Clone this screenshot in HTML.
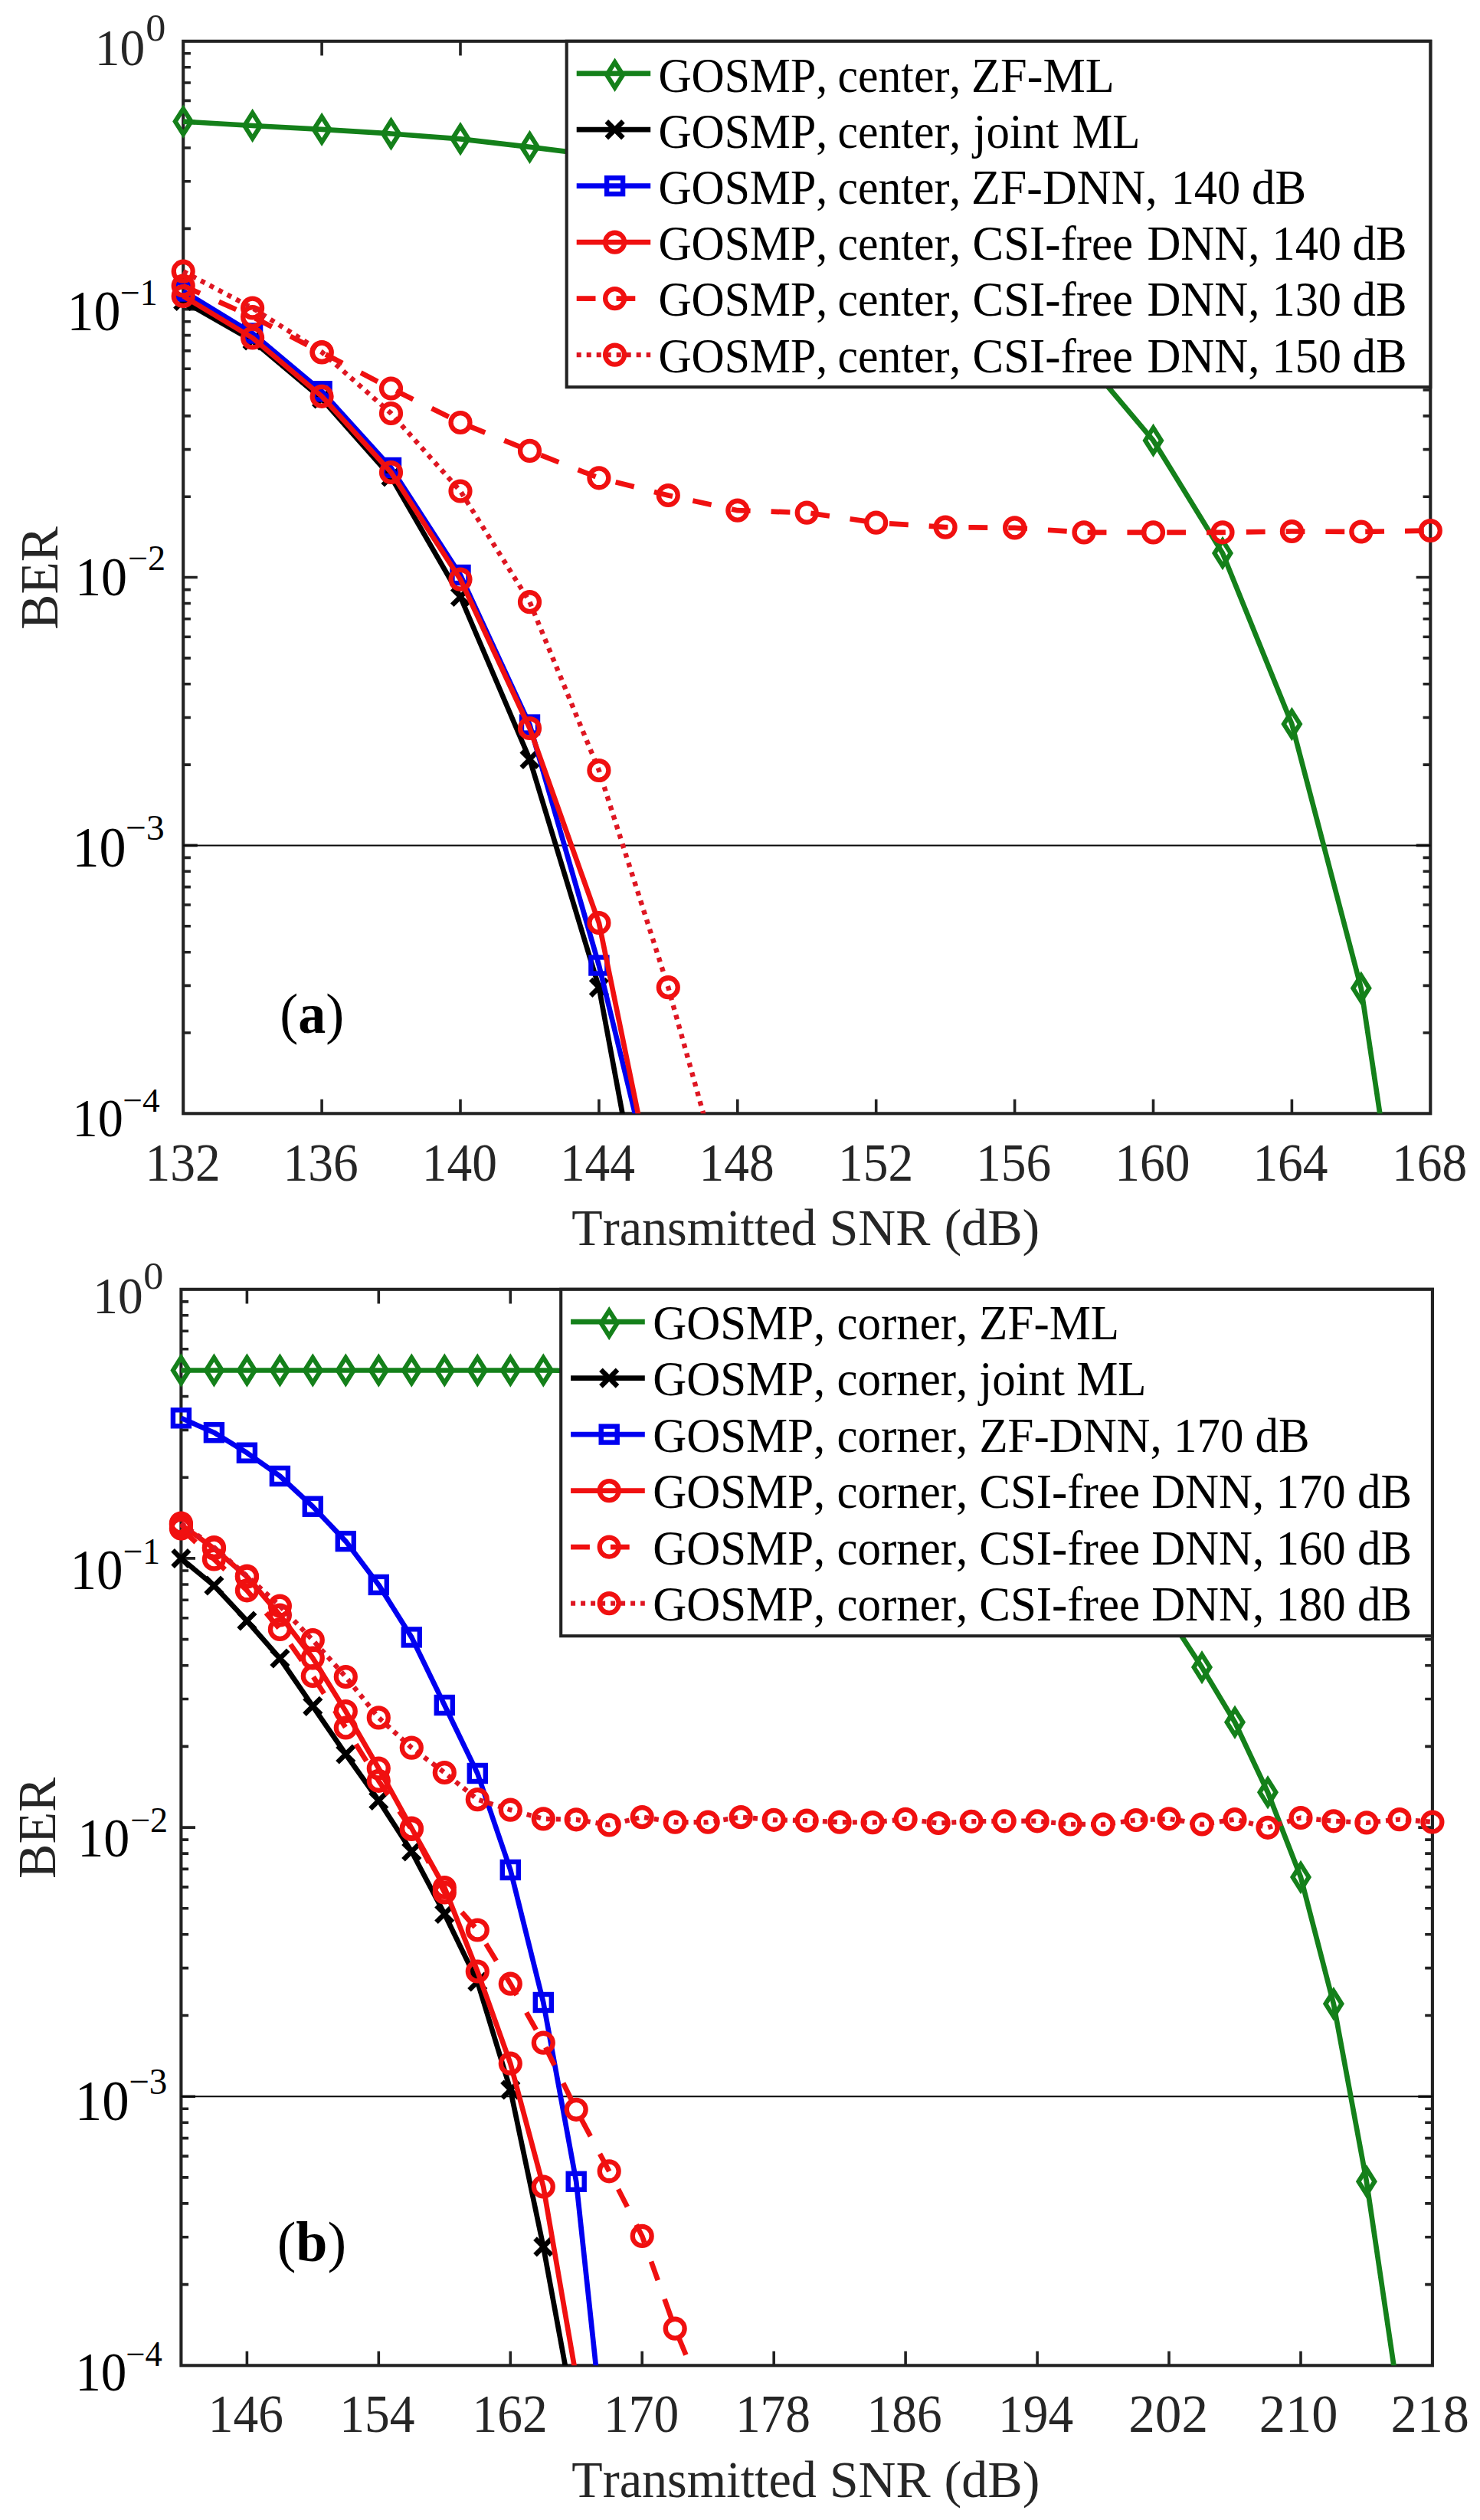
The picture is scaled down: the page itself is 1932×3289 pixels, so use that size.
<!DOCTYPE html>
<html lang="en"><head><meta charset="utf-8"><title>BER versus transmitted SNR</title>
<style>html,body{margin:0;padding:0;background:#fff}svg{display:block}text{font-family:"Liberation Serif", serif;font-kerning:none}</style></head><body>
<svg width="1932" height="3289" viewBox="0 0 1932 3289">
<rect width="1932" height="3289" fill="#fff"/>
<defs>
<clipPath id="ca"><rect x="209.2" y="53.8" width="1688.1" height="1399.5"/></clipPath>
<clipPath id="cb"><rect x="206.4" y="1682.8" width="1693.5" height="1404.5"/></clipPath>
</defs>
<g id="panel-a">
<rect x="239.2" y="53.8" width="1628.1" height="1399.5" fill="none" stroke="#222222" stroke-width="4.1"/>
<path d="M239.2 298.4L248.9 298.4M1867.3 298.4L1857.6 298.4M239.2 236.7L248.9 236.7M1867.3 236.7L1857.6 236.7M239.2 193L248.9 193M1867.3 193L1857.6 193M239.2 159.1L248.9 159.1M1867.3 159.1L1857.6 159.1M239.2 131.4L248.9 131.4M1867.3 131.4L1857.6 131.4M239.2 108L248.9 108M1867.3 108L1857.6 108M239.2 87.7L248.9 87.7M1867.3 87.7L1857.6 87.7M239.2 69.8L248.9 69.8M1867.3 69.8L1857.6 69.8M239.2 403.7L257.8 403.7M1867.3 403.7L1848.7 403.7M239.2 648.2L248.9 648.2M1867.3 648.2L1857.6 648.2M239.2 586.6L248.9 586.6M1867.3 586.6L1857.6 586.6M239.2 542.9L248.9 542.9M1867.3 542.9L1857.6 542.9M239.2 509L248.9 509M1867.3 509L1857.6 509M239.2 481.3L248.9 481.3M1867.3 481.3L1857.6 481.3M239.2 457.9L248.9 457.9M1867.3 457.9L1857.6 457.9M239.2 437.6L248.9 437.6M1867.3 437.6L1857.6 437.6M239.2 419.7L248.9 419.7M1867.3 419.7L1857.6 419.7M239.2 753.5L257.8 753.5M1867.3 753.5L1848.7 753.5M239.2 998.1L248.9 998.1M1867.3 998.1L1857.6 998.1M239.2 936.5L248.9 936.5M1867.3 936.5L1857.6 936.5M239.2 892.8L248.9 892.8M1867.3 892.8L1857.6 892.8M239.2 858.9L248.9 858.9M1867.3 858.9L1857.6 858.9M239.2 831.2L248.9 831.2M1867.3 831.2L1857.6 831.2M239.2 807.7L248.9 807.7M1867.3 807.7L1857.6 807.7M239.2 787.5L248.9 787.5M1867.3 787.5L1857.6 787.5M239.2 769.6L248.9 769.6M1867.3 769.6L1857.6 769.6M239.2 1103.4L257.8 1103.4M1867.3 1103.4L1848.7 1103.4M239.2 1348L248.9 1348M1867.3 1348L1857.6 1348M239.2 1286.4L248.9 1286.4M1867.3 1286.4L1857.6 1286.4M239.2 1242.7L248.9 1242.7M1867.3 1242.7L1857.6 1242.7M239.2 1208.7L248.9 1208.7M1867.3 1208.7L1857.6 1208.7M239.2 1181L248.9 1181M1867.3 1181L1857.6 1181M239.2 1157.6L248.9 1157.6M1867.3 1157.6L1857.6 1157.6M239.2 1137.3L248.9 1137.3M1867.3 1137.3L1857.6 1137.3M239.2 1119.4L248.9 1119.4M1867.3 1119.4L1857.6 1119.4M420.1 1453.3L420.1 1434.7M420.1 53.8L420.1 72.4M601 1453.3L601 1434.7M601 53.8L601 72.4M781.9 1453.3L781.9 1434.7M781.9 53.8L781.9 72.4M962.8 1453.3L962.8 1434.7M962.8 53.8L962.8 72.4M1143.7 1453.3L1143.7 1434.7M1143.7 53.8L1143.7 72.4M1324.6 1453.3L1324.6 1434.7M1324.6 53.8L1324.6 72.4M1505.5 1453.3L1505.5 1434.7M1505.5 53.8L1505.5 72.4M1686.4 1453.3L1686.4 1434.7M1686.4 53.8L1686.4 72.4" fill="none" stroke="#222222" stroke-width="3.6"/>
<path d="M239.2 1103.4L1867.3 1103.4" stroke="#080808" stroke-width="2.0" fill="none"/>
<path d="M239.2 158.6L329.6 164L420.1 168.9L510.5 174.5L601 181.3L691.5 191.9L781.9 203L872.3 220L962.8 243L1053.2 272L1143.7 308L1234.1 352L1324.6 408L1415 467.6L1505.5 574.9L1596 722L1686.4 945L1776.8 1289.8L1801.3 1453.3L1820 1574.7" fill="none" stroke="#14801a" stroke-width="6.7" stroke-linejoin="round" clip-path="url(#ca)"/>
<g><path d="M239.2 142L249.7 158.6L239.2 175.2L228.7 158.6Z" fill="none" stroke="#14801a" stroke-width="6.0" stroke-linejoin="miter"/><path d="M329.6 147.4L340.1 164L329.6 180.6L319.1 164Z" fill="none" stroke="#14801a" stroke-width="6.0" stroke-linejoin="miter"/><path d="M420.1 152.3L430.6 168.9L420.1 185.5L409.6 168.9Z" fill="none" stroke="#14801a" stroke-width="6.0" stroke-linejoin="miter"/><path d="M510.5 157.9L521 174.5L510.5 191.1L500 174.5Z" fill="none" stroke="#14801a" stroke-width="6.0" stroke-linejoin="miter"/><path d="M601 164.7L611.5 181.3L601 197.9L590.5 181.3Z" fill="none" stroke="#14801a" stroke-width="6.0" stroke-linejoin="miter"/><path d="M691.5 175.3L702 191.9L691.5 208.5L681 191.9Z" fill="none" stroke="#14801a" stroke-width="6.0" stroke-linejoin="miter"/><path d="M781.9 186.4L792.4 203L781.9 219.6L771.4 203Z" fill="none" stroke="#14801a" stroke-width="6.0" stroke-linejoin="miter"/><path d="M872.3 203.4L882.8 220L872.3 236.6L861.8 220Z" fill="none" stroke="#14801a" stroke-width="6.0" stroke-linejoin="miter"/><path d="M962.8 226.4L973.3 243L962.8 259.6L952.3 243Z" fill="none" stroke="#14801a" stroke-width="6.0" stroke-linejoin="miter"/><path d="M1053.2 255.4L1063.8 272L1053.2 288.6L1042.8 272Z" fill="none" stroke="#14801a" stroke-width="6.0" stroke-linejoin="miter"/><path d="M1143.7 291.4L1154.2 308L1143.7 324.6L1133.2 308Z" fill="none" stroke="#14801a" stroke-width="6.0" stroke-linejoin="miter"/><path d="M1234.1 335.4L1244.6 352L1234.1 368.6L1223.6 352Z" fill="none" stroke="#14801a" stroke-width="6.0" stroke-linejoin="miter"/><path d="M1324.6 391.4L1335.1 408L1324.6 424.6L1314.1 408Z" fill="none" stroke="#14801a" stroke-width="6.0" stroke-linejoin="miter"/><path d="M1415 451L1425.5 467.6L1415 484.2L1404.5 467.6Z" fill="none" stroke="#14801a" stroke-width="6.0" stroke-linejoin="miter"/><path d="M1505.5 558.3L1516 574.9L1505.5 591.5L1495 574.9Z" fill="none" stroke="#14801a" stroke-width="6.0" stroke-linejoin="miter"/><path d="M1596 705.4L1606.5 722L1596 738.6L1585.5 722Z" fill="none" stroke="#14801a" stroke-width="6.0" stroke-linejoin="miter"/><path d="M1686.4 928.4L1696.9 945L1686.4 961.6L1675.9 945Z" fill="none" stroke="#14801a" stroke-width="6.0" stroke-linejoin="miter"/><path d="M1776.8 1273.2L1787.3 1289.8L1776.8 1306.4L1766.3 1289.8Z" fill="none" stroke="#14801a" stroke-width="6.0" stroke-linejoin="miter"/></g>
<path d="M239.2 393L329.6 444.5L420.1 520.5L510.5 622.5L601 779L691.5 991L781.9 1288.8L812.5 1453.3L822 1550" fill="none" stroke="#000000" stroke-width="6.7" stroke-linejoin="round" clip-path="url(#ca)"/>
<g><path d="M228.4 382.2L250 403.8M228.4 403.8L250 382.2" fill="none" stroke="#000000" stroke-width="6.5" stroke-linecap="butt"/><path d="M318.8 433.7L340.4 455.3M318.8 455.3L340.4 433.7" fill="none" stroke="#000000" stroke-width="6.5" stroke-linecap="butt"/><path d="M409.3 509.7L430.9 531.3M409.3 531.3L430.9 509.7" fill="none" stroke="#000000" stroke-width="6.5" stroke-linecap="butt"/><path d="M499.7 611.7L521.3 633.3M499.7 633.3L521.3 611.7" fill="none" stroke="#000000" stroke-width="6.5" stroke-linecap="butt"/><path d="M590.2 768.2L611.8 789.8M590.2 789.8L611.8 768.2" fill="none" stroke="#000000" stroke-width="6.5" stroke-linecap="butt"/><path d="M680.7 980.2L702.2 1001.8M680.7 1001.8L702.2 980.2" fill="none" stroke="#000000" stroke-width="6.5" stroke-linecap="butt"/><path d="M771.1 1278L792.7 1299.6M771.1 1299.6L792.7 1278" fill="none" stroke="#000000" stroke-width="6.5" stroke-linecap="butt"/></g>
<path d="M239.2 380L329.6 435L420.1 510.8L510.5 610.5L601 750.5L691.5 946L781.9 1260L828.9 1453.3L836 1550" fill="none" stroke="#0000f0" stroke-width="6.7" stroke-linejoin="round" clip-path="url(#ca)"/>
<g><rect x="228.7" y="369.5" width="21" height="21" fill="none" stroke="#0000f0" stroke-width="6.4"/><rect x="319.1" y="424.5" width="21" height="21" fill="none" stroke="#0000f0" stroke-width="6.4"/><rect x="409.6" y="500.3" width="21" height="21" fill="none" stroke="#0000f0" stroke-width="6.4"/><rect x="500" y="600" width="21" height="21" fill="none" stroke="#0000f0" stroke-width="6.4"/><rect x="590.5" y="740" width="21" height="21" fill="none" stroke="#0000f0" stroke-width="6.4"/><rect x="681" y="935.5" width="21" height="21" fill="none" stroke="#0000f0" stroke-width="6.4"/><rect x="771.4" y="1249.5" width="21" height="21" fill="none" stroke="#0000f0" stroke-width="6.4"/></g>
<path d="M239.2 386.5L329.6 441L420.1 517.3L510.5 616.5L601 756.2L691.5 950.5L781.9 1204.5L832.9 1453.3L846 1550" fill="none" stroke="#f01010" stroke-width="6.7" stroke-linejoin="round" clip-path="url(#ca)"/>
<g><circle cx="239.2" cy="386.5" r="12.45" fill="none" stroke="#f01010" stroke-width="6.3"/><circle cx="329.6" cy="441" r="12.45" fill="none" stroke="#f01010" stroke-width="6.3"/><circle cx="420.1" cy="517.3" r="12.45" fill="none" stroke="#f01010" stroke-width="6.3"/><circle cx="510.5" cy="616.5" r="12.45" fill="none" stroke="#f01010" stroke-width="6.3"/><circle cx="601" cy="756.2" r="12.45" fill="none" stroke="#f01010" stroke-width="6.3"/><circle cx="691.5" cy="950.5" r="12.45" fill="none" stroke="#f01010" stroke-width="6.3"/><circle cx="781.9" cy="1204.5" r="12.45" fill="none" stroke="#f01010" stroke-width="6.3"/></g>
<path d="M239.2 373L329.6 413.5L420.1 460L510.5 507L601 551.5L691.5 588.4L781.9 623.8L872.3 646.5L962.8 666.2L1053.2 669.2L1143.7 682.2L1234.1 688.1L1324.6 688.9L1415 694.9L1505.5 694.9L1596 694.8L1686.4 693.5L1776.8 694L1867.3 692.5" fill="none" stroke="#f01010" stroke-width="6.7" stroke-linejoin="round" stroke-dasharray="24.8 26.999999999999996" stroke-dashoffset="0.8" clip-path="url(#ca)"/>
<g><circle cx="239.2" cy="373" r="12.45" fill="none" stroke="#f01010" stroke-width="6.3"/><circle cx="329.6" cy="413.5" r="12.45" fill="none" stroke="#f01010" stroke-width="6.3"/><circle cx="420.1" cy="460" r="12.45" fill="none" stroke="#f01010" stroke-width="6.3"/><circle cx="510.5" cy="507" r="12.45" fill="none" stroke="#f01010" stroke-width="6.3"/><circle cx="601" cy="551.5" r="12.45" fill="none" stroke="#f01010" stroke-width="6.3"/><circle cx="691.5" cy="588.4" r="12.45" fill="none" stroke="#f01010" stroke-width="6.3"/><circle cx="781.9" cy="623.8" r="12.45" fill="none" stroke="#f01010" stroke-width="6.3"/><circle cx="872.3" cy="646.5" r="12.45" fill="none" stroke="#f01010" stroke-width="6.3"/><circle cx="962.8" cy="666.2" r="12.45" fill="none" stroke="#f01010" stroke-width="6.3"/><circle cx="1053.2" cy="669.2" r="12.45" fill="none" stroke="#f01010" stroke-width="6.3"/><circle cx="1143.7" cy="682.2" r="12.45" fill="none" stroke="#f01010" stroke-width="6.3"/><circle cx="1234.1" cy="688.1" r="12.45" fill="none" stroke="#f01010" stroke-width="6.3"/><circle cx="1324.6" cy="688.9" r="12.45" fill="none" stroke="#f01010" stroke-width="6.3"/><circle cx="1415" cy="694.9" r="12.45" fill="none" stroke="#f01010" stroke-width="6.3"/><circle cx="1505.5" cy="694.9" r="12.45" fill="none" stroke="#f01010" stroke-width="6.3"/><circle cx="1596" cy="694.8" r="12.45" fill="none" stroke="#f01010" stroke-width="6.3"/><circle cx="1686.4" cy="693.5" r="12.45" fill="none" stroke="#f01010" stroke-width="6.3"/><circle cx="1776.8" cy="694" r="12.45" fill="none" stroke="#f01010" stroke-width="6.3"/><circle cx="1867.3" cy="692.5" r="12.45" fill="none" stroke="#f01010" stroke-width="6.3"/></g>
<path d="M239.2 354.2L329.6 402L420.1 459.5L510.5 539.5L601 641L691.5 785.7L781.9 1005.5L872.3 1288.7L918.1 1453.3L929 1550" fill="none" stroke="#de1622" stroke-width="6.4" stroke-linejoin="round" stroke-dasharray="6 7" clip-path="url(#ca)"/>
<g><circle cx="239.2" cy="354.2" r="12.45" fill="none" stroke="#f01010" stroke-width="6.3"/><circle cx="329.6" cy="402" r="12.45" fill="none" stroke="#f01010" stroke-width="6.3"/><circle cx="420.1" cy="459.5" r="12.45" fill="none" stroke="#f01010" stroke-width="6.3"/><circle cx="510.5" cy="539.5" r="12.45" fill="none" stroke="#f01010" stroke-width="6.3"/><circle cx="601" cy="641" r="12.45" fill="none" stroke="#f01010" stroke-width="6.3"/><circle cx="691.5" cy="785.7" r="12.45" fill="none" stroke="#f01010" stroke-width="6.3"/><circle cx="781.9" cy="1005.5" r="12.45" fill="none" stroke="#f01010" stroke-width="6.3"/><circle cx="872.3" cy="1288.7" r="12.45" fill="none" stroke="#f01010" stroke-width="6.3"/></g>
<rect x="739.7" y="53.8" width="1127.6" height="451.4" fill="#fff" stroke="#222222" stroke-width="4.1"/>
<path d="M752.7 95.8L849.2 95.8" stroke="#14801a" stroke-width="6.7" fill="none"/>
<path d="M802.6 81.2L813.1 97.8L802.6 114.4L792.1 97.8Z" fill="none" stroke="#14801a" stroke-width="6.0" stroke-linejoin="miter"/>
<text y="119.6" font-size="63.6" fill="#000"><tspan x="859.4" textLength="220.7" lengthAdjust="spacingAndGlyphs">GOSMP,</tspan> <tspan x="1093.6" textLength="160.6" lengthAdjust="spacingAndGlyphs">center,</tspan> <tspan x="1268" textLength="186.9" lengthAdjust="spacingAndGlyphs">ZF-ML</tspan></text>
<path d="M752.7 169.2L849.2 169.2" stroke="#000000" stroke-width="6.7" fill="none"/>
<path d="M791.8 158.4L813.4 180.1M791.8 180.1L813.4 158.4" fill="none" stroke="#000000" stroke-width="6.5" stroke-linecap="butt"/>
<text y="192.8" font-size="63.6" fill="#000"><tspan x="859.4" textLength="220.7" lengthAdjust="spacingAndGlyphs">GOSMP,</tspan> <tspan x="1093.6" textLength="160.6" lengthAdjust="spacingAndGlyphs">center,</tspan> <tspan x="1270.5" textLength="111.6" lengthAdjust="spacingAndGlyphs">joint</tspan> <tspan x="1399.7" textLength="88.7" lengthAdjust="spacingAndGlyphs">ML</tspan></text>
<path d="M752.7 242.7L849.2 242.7" stroke="#0000f0" stroke-width="6.7" fill="none"/>
<rect x="792.1" y="232.2" width="21" height="21" fill="none" stroke="#0000f0" stroke-width="6.4"/>
<text y="266" font-size="63.6" fill="#000"><tspan x="859.4" textLength="220.7" lengthAdjust="spacingAndGlyphs">GOSMP,</tspan> <tspan x="1093.6" textLength="160.6" lengthAdjust="spacingAndGlyphs">center,</tspan> <tspan x="1268" textLength="242.7" lengthAdjust="spacingAndGlyphs">ZF-DNN,</tspan> <tspan x="1528.7" textLength="90.5" lengthAdjust="spacingAndGlyphs">140</tspan> <tspan x="1634.1" textLength="71.2" lengthAdjust="spacingAndGlyphs">dB</tspan></text>
<path d="M752.7 316.2L849.2 316.2" stroke="#f01010" stroke-width="6.7" fill="none"/>
<circle cx="802.6" cy="316.2" r="12.45" fill="none" stroke="#f01010" stroke-width="6.3"/>
<text y="339.2" font-size="63.6" fill="#000"><tspan x="859.4" textLength="220.7" lengthAdjust="spacingAndGlyphs">GOSMP,</tspan> <tspan x="1093.6" textLength="160.6" lengthAdjust="spacingAndGlyphs">center,</tspan> <tspan x="1269.6" textLength="209.3" lengthAdjust="spacingAndGlyphs">CSI-free</tspan> <tspan x="1497.4" textLength="147" lengthAdjust="spacingAndGlyphs">DNN,</tspan> <tspan x="1660.5" textLength="90.5" lengthAdjust="spacingAndGlyphs">140</tspan> <tspan x="1765.5" textLength="71.1" lengthAdjust="spacingAndGlyphs">dB</tspan></text>
<path d="M752.7 389.6L849.2 389.6" stroke="#f01010" stroke-width="6.7" stroke-dasharray="24.8 27" fill="none"/>
<circle cx="802.6" cy="389.6" r="12.45" fill="none" stroke="#f01010" stroke-width="6.3"/>
<text y="412.4" font-size="63.6" fill="#000"><tspan x="859.4" textLength="220.7" lengthAdjust="spacingAndGlyphs">GOSMP,</tspan> <tspan x="1093.6" textLength="160.6" lengthAdjust="spacingAndGlyphs">center,</tspan> <tspan x="1269.6" textLength="209.3" lengthAdjust="spacingAndGlyphs">CSI-free</tspan> <tspan x="1497.4" textLength="147" lengthAdjust="spacingAndGlyphs">DNN,</tspan> <tspan x="1660.5" textLength="90.5" lengthAdjust="spacingAndGlyphs">130</tspan> <tspan x="1765.5" textLength="71.1" lengthAdjust="spacingAndGlyphs">dB</tspan></text>
<path d="M752.7 463.1L849.2 463.1" stroke="#de1622" stroke-width="6.4" stroke-dasharray="6 7" fill="none"/>
<circle cx="802.6" cy="463.1" r="12.45" fill="none" stroke="#f01010" stroke-width="6.3"/>
<text y="485.6" font-size="63.6" fill="#000"><tspan x="859.4" textLength="220.7" lengthAdjust="spacingAndGlyphs">GOSMP,</tspan> <tspan x="1093.6" textLength="160.6" lengthAdjust="spacingAndGlyphs">center,</tspan> <tspan x="1269.6" textLength="209.3" lengthAdjust="spacingAndGlyphs">CSI-free</tspan> <tspan x="1497.4" textLength="147" lengthAdjust="spacingAndGlyphs">DNN,</tspan> <tspan x="1660.5" textLength="90.5" lengthAdjust="spacingAndGlyphs">150</tspan> <tspan x="1765.5" textLength="71.1" lengthAdjust="spacingAndGlyphs">dB</tspan></text>
<text x="189.5" y="1540.7" font-size="69.3" textLength="98.2" lengthAdjust="spacingAndGlyphs" fill="#262626">132</text>
<text x="369.6" y="1540.7" font-size="69.3" textLength="98.2" lengthAdjust="spacingAndGlyphs" fill="#262626">136</text>
<text x="550.8" y="1540.7" font-size="69.3" textLength="98.2" lengthAdjust="spacingAndGlyphs" fill="#262626">140</text>
<text x="730.9" y="1541" font-size="69.3" textLength="98.2" lengthAdjust="spacingAndGlyphs" fill="#262626">144</text>
<text x="912.6" y="1540.7" font-size="69.3" textLength="98.2" lengthAdjust="spacingAndGlyphs" fill="#262626">148</text>
<text x="1094" y="1540.7" font-size="69.3" textLength="98.2" lengthAdjust="spacingAndGlyphs" fill="#262626">152</text>
<text x="1274.1" y="1540.7" font-size="69.3" textLength="98.2" lengthAdjust="spacingAndGlyphs" fill="#262626">156</text>
<text x="1455.3" y="1540.7" font-size="69.3" textLength="98.2" lengthAdjust="spacingAndGlyphs" fill="#262626">160</text>
<text x="1635.4" y="1540.7" font-size="69.3" textLength="98.2" lengthAdjust="spacingAndGlyphs" fill="#262626">164</text>
<text x="1817.1" y="1540.7" font-size="69.3" textLength="98.2" lengthAdjust="spacingAndGlyphs" fill="#262626">168</text>
<text y="1625.3" font-size="68.3" fill="#262626"><tspan x="746.3" textLength="319.3" lengthAdjust="spacingAndGlyphs">Transmitted</tspan> <tspan x="1082.7" textLength="131.7" lengthAdjust="spacingAndGlyphs">SNR</tspan> <tspan x="1232.4" textLength="124.9" lengthAdjust="spacingAndGlyphs">(dB)</tspan></text>
<text transform="translate(74.8 821.7) rotate(-90)" font-size="69.6" textLength="134.5" lengthAdjust="spacingAndGlyphs" fill="#262626">BER</text>
<text x="123.7" y="84.9" font-size="67.6" textLength="65.5" lengthAdjust="spacingAndGlyphs" fill="#262626">10</text>
<text x="190.2" y="52.6" font-size="50.7" textLength="26.1" lengthAdjust="spacingAndGlyphs" fill="#262626">0</text>
<text x="87.4" y="430.9" font-size="73.8" textLength="70" lengthAdjust="spacingAndGlyphs" fill="#000">10</text>
<text x="157" y="397.7" font-size="47.6" textLength="48.8" lengthAdjust="spacingAndGlyphs" fill="#000">−1</text>
<text x="98.1" y="777.3" font-size="72.4" textLength="68" lengthAdjust="spacingAndGlyphs" fill="#000">10</text>
<text x="167.1" y="743.9" font-size="46.5" textLength="49.1" lengthAdjust="spacingAndGlyphs" fill="#000">−2</text>
<text x="94.6" y="1130.5" font-size="74.4" textLength="70" lengthAdjust="spacingAndGlyphs" fill="#000">10</text>
<text x="164.2" y="1095.9" font-size="47.2" textLength="50.4" lengthAdjust="spacingAndGlyphs" fill="#000">−3</text>
<text x="94.6" y="1483" font-size="70.8" textLength="66.2" lengthAdjust="spacingAndGlyphs" fill="#000">10</text>
<text x="160.3" y="1451.4" font-size="44.8" textLength="48.3" lengthAdjust="spacingAndGlyphs" fill="#000">−4</text>
<text x="407.3" y="1348" font-size="74" text-anchor="middle" textLength="84" lengthAdjust="spacingAndGlyphs" fill="#000">(<tspan font-weight="bold">a</tspan>)</text>
</g>
<g id="panel-b">
<rect x="236.4" y="1682.8" width="1633.5" height="1404.5" fill="none" stroke="#222222" stroke-width="4.1"/>
<path d="M236.4 1928.2L246.1 1928.2M1869.9 1928.2L1860.2 1928.2M236.4 1866.4L246.1 1866.4M1869.9 1866.4L1860.2 1866.4M236.4 1822.5L246.1 1822.5M1869.9 1822.5L1860.2 1822.5M236.4 1788.5L246.1 1788.5M1869.9 1788.5L1860.2 1788.5M236.4 1760.7L246.1 1760.7M1869.9 1760.7L1860.2 1760.7M236.4 1737.2L246.1 1737.2M1869.9 1737.2L1860.2 1737.2M236.4 1716.8L246.1 1716.8M1869.9 1716.8L1860.2 1716.8M236.4 1698.9L246.1 1698.9M1869.9 1698.9L1860.2 1698.9M236.4 2033.9L255 2033.9M1869.9 2033.9L1851.3 2033.9M236.4 2279.4L246.1 2279.4M1869.9 2279.4L1860.2 2279.4M236.4 2217.5L246.1 2217.5M1869.9 2217.5L1860.2 2217.5M236.4 2173.7L246.1 2173.7M1869.9 2173.7L1860.2 2173.7M236.4 2139.6L246.1 2139.6M1869.9 2139.6L1860.2 2139.6M236.4 2111.8L246.1 2111.8M1869.9 2111.8L1860.2 2111.8M236.4 2088.3L246.1 2088.3M1869.9 2088.3L1860.2 2088.3M236.4 2068L246.1 2068M1869.9 2068L1860.2 2068M236.4 2050L246.1 2050M1869.9 2050L1860.2 2050M236.4 2385.1L255 2385.1M1869.9 2385.1L1851.3 2385.1M236.4 2630.5L246.1 2630.5M1869.9 2630.5L1860.2 2630.5M236.4 2568.6L246.1 2568.6M1869.9 2568.6L1860.2 2568.6M236.4 2524.8L246.1 2524.8M1869.9 2524.8L1860.2 2524.8M236.4 2490.7L246.1 2490.7M1869.9 2490.7L1860.2 2490.7M236.4 2462.9L246.1 2462.9M1869.9 2462.9L1860.2 2462.9M236.4 2439.4L246.1 2439.4M1869.9 2439.4L1860.2 2439.4M236.4 2419.1L246.1 2419.1M1869.9 2419.1L1860.2 2419.1M236.4 2401.1L246.1 2401.1M1869.9 2401.1L1860.2 2401.1M236.4 2736.2L255 2736.2M1869.9 2736.2L1851.3 2736.2M236.4 2981.6L246.1 2981.6M1869.9 2981.6L1860.2 2981.6M236.4 2919.8L246.1 2919.8M1869.9 2919.8L1860.2 2919.8M236.4 2875.9L246.1 2875.9M1869.9 2875.9L1860.2 2875.9M236.4 2841.9L246.1 2841.9M1869.9 2841.9L1860.2 2841.9M236.4 2814.1L246.1 2814.1M1869.9 2814.1L1860.2 2814.1M236.4 2790.6L246.1 2790.6M1869.9 2790.6L1860.2 2790.6M236.4 2770.2L246.1 2770.2M1869.9 2770.2L1860.2 2770.2M236.4 2752.2L246.1 2752.2M1869.9 2752.2L1860.2 2752.2M322.4 3087.3L322.4 3068.7M322.4 1682.8L322.4 1701.4M494.3 3087.3L494.3 3068.7M494.3 1682.8L494.3 1701.4M666.3 3087.3L666.3 3068.7M666.3 1682.8L666.3 1701.4M838.2 3087.3L838.2 3068.7M838.2 1682.8L838.2 1701.4M1010.2 3087.3L1010.2 3068.7M1010.2 1682.8L1010.2 1701.4M1182.1 3087.3L1182.1 3068.7M1182.1 1682.8L1182.1 1701.4M1354.1 3087.3L1354.1 3068.7M1354.1 1682.8L1354.1 1701.4M1526 3087.3L1526 3068.7M1526 1682.8L1526 1701.4M1698 3087.3L1698 3068.7M1698 1682.8L1698 1701.4" fill="none" stroke="#222222" stroke-width="3.6"/>
<path d="M236.4 2736.2L1869.9 2736.2" stroke="#080808" stroke-width="2.0" fill="none"/>
<path d="M236.4 1788.5L279.4 1788.5L322.4 1788.5L365.4 1788.5L408.3 1788.5L451.3 1788.5L494.3 1788.5L537.3 1788.5L580.3 1788.5L623.3 1788.5L666.3 1788.5L709.3 1788.5L752.2 1789L795.2 1790L838.2 1791L881.2 1793L924.2 1795L967.2 1798L1010.2 1802L1053.2 1808L1096.1 1816L1139.1 1826L1182.1 1839L1225.1 1856L1268.1 1878L1311.1 1905L1354.1 1938L1397 1977L1440 2022L1483 2060L1526 2110L1569 2176.1L1612 2247.8L1655 2339.2L1698 2450L1740.9 2615.3L1783.9 2847.2L1819.4 3087.3L1826 3200" fill="none" stroke="#14801a" stroke-width="6.7" stroke-linejoin="round" clip-path="url(#cb)"/>
<g><path d="M236.4 1771.9L246.9 1788.5L236.4 1805.1L225.9 1788.5Z" fill="none" stroke="#14801a" stroke-width="6.0" stroke-linejoin="miter"/><path d="M279.4 1771.9L289.9 1788.5L279.4 1805.1L268.9 1788.5Z" fill="none" stroke="#14801a" stroke-width="6.0" stroke-linejoin="miter"/><path d="M322.4 1771.9L332.9 1788.5L322.4 1805.1L311.9 1788.5Z" fill="none" stroke="#14801a" stroke-width="6.0" stroke-linejoin="miter"/><path d="M365.4 1771.9L375.9 1788.5L365.4 1805.1L354.9 1788.5Z" fill="none" stroke="#14801a" stroke-width="6.0" stroke-linejoin="miter"/><path d="M408.3 1771.9L418.8 1788.5L408.3 1805.1L397.8 1788.5Z" fill="none" stroke="#14801a" stroke-width="6.0" stroke-linejoin="miter"/><path d="M451.3 1771.9L461.8 1788.5L451.3 1805.1L440.8 1788.5Z" fill="none" stroke="#14801a" stroke-width="6.0" stroke-linejoin="miter"/><path d="M494.3 1771.9L504.8 1788.5L494.3 1805.1L483.8 1788.5Z" fill="none" stroke="#14801a" stroke-width="6.0" stroke-linejoin="miter"/><path d="M537.3 1771.9L547.8 1788.5L537.3 1805.1L526.8 1788.5Z" fill="none" stroke="#14801a" stroke-width="6.0" stroke-linejoin="miter"/><path d="M580.3 1771.9L590.8 1788.5L580.3 1805.1L569.8 1788.5Z" fill="none" stroke="#14801a" stroke-width="6.0" stroke-linejoin="miter"/><path d="M623.3 1771.9L633.8 1788.5L623.3 1805.1L612.8 1788.5Z" fill="none" stroke="#14801a" stroke-width="6.0" stroke-linejoin="miter"/><path d="M666.3 1771.9L676.8 1788.5L666.3 1805.1L655.8 1788.5Z" fill="none" stroke="#14801a" stroke-width="6.0" stroke-linejoin="miter"/><path d="M709.3 1771.9L719.8 1788.5L709.3 1805.1L698.8 1788.5Z" fill="none" stroke="#14801a" stroke-width="6.0" stroke-linejoin="miter"/><path d="M752.2 1772.4L762.7 1789L752.2 1805.6L741.7 1789Z" fill="none" stroke="#14801a" stroke-width="6.0" stroke-linejoin="miter"/><path d="M795.2 1773.4L805.7 1790L795.2 1806.6L784.7 1790Z" fill="none" stroke="#14801a" stroke-width="6.0" stroke-linejoin="miter"/><path d="M838.2 1774.4L848.7 1791L838.2 1807.6L827.7 1791Z" fill="none" stroke="#14801a" stroke-width="6.0" stroke-linejoin="miter"/><path d="M881.2 1776.4L891.7 1793L881.2 1809.6L870.7 1793Z" fill="none" stroke="#14801a" stroke-width="6.0" stroke-linejoin="miter"/><path d="M924.2 1778.4L934.7 1795L924.2 1811.6L913.7 1795Z" fill="none" stroke="#14801a" stroke-width="6.0" stroke-linejoin="miter"/><path d="M967.2 1781.4L977.7 1798L967.2 1814.6L956.7 1798Z" fill="none" stroke="#14801a" stroke-width="6.0" stroke-linejoin="miter"/><path d="M1010.2 1785.4L1020.7 1802L1010.2 1818.6L999.7 1802Z" fill="none" stroke="#14801a" stroke-width="6.0" stroke-linejoin="miter"/><path d="M1053.2 1791.4L1063.7 1808L1053.2 1824.6L1042.7 1808Z" fill="none" stroke="#14801a" stroke-width="6.0" stroke-linejoin="miter"/><path d="M1096.1 1799.4L1106.6 1816L1096.1 1832.6L1085.6 1816Z" fill="none" stroke="#14801a" stroke-width="6.0" stroke-linejoin="miter"/><path d="M1139.1 1809.4L1149.6 1826L1139.1 1842.6L1128.6 1826Z" fill="none" stroke="#14801a" stroke-width="6.0" stroke-linejoin="miter"/><path d="M1182.1 1822.4L1192.6 1839L1182.1 1855.6L1171.6 1839Z" fill="none" stroke="#14801a" stroke-width="6.0" stroke-linejoin="miter"/><path d="M1225.1 1839.4L1235.6 1856L1225.1 1872.6L1214.6 1856Z" fill="none" stroke="#14801a" stroke-width="6.0" stroke-linejoin="miter"/><path d="M1268.1 1861.4L1278.6 1878L1268.1 1894.6L1257.6 1878Z" fill="none" stroke="#14801a" stroke-width="6.0" stroke-linejoin="miter"/><path d="M1311.1 1888.4L1321.6 1905L1311.1 1921.6L1300.6 1905Z" fill="none" stroke="#14801a" stroke-width="6.0" stroke-linejoin="miter"/><path d="M1354.1 1921.4L1364.6 1938L1354.1 1954.6L1343.6 1938Z" fill="none" stroke="#14801a" stroke-width="6.0" stroke-linejoin="miter"/><path d="M1397 1960.4L1407.5 1977L1397 1993.6L1386.5 1977Z" fill="none" stroke="#14801a" stroke-width="6.0" stroke-linejoin="miter"/><path d="M1440 2005.4L1450.5 2022L1440 2038.6L1429.5 2022Z" fill="none" stroke="#14801a" stroke-width="6.0" stroke-linejoin="miter"/><path d="M1483 2043.4L1493.5 2060L1483 2076.6L1472.5 2060Z" fill="none" stroke="#14801a" stroke-width="6.0" stroke-linejoin="miter"/><path d="M1526 2093.4L1536.5 2110L1526 2126.6L1515.5 2110Z" fill="none" stroke="#14801a" stroke-width="6.0" stroke-linejoin="miter"/><path d="M1569 2159.5L1579.5 2176.1L1569 2192.7L1558.5 2176.1Z" fill="none" stroke="#14801a" stroke-width="6.0" stroke-linejoin="miter"/><path d="M1612 2231.2L1622.5 2247.8L1612 2264.4L1601.5 2247.8Z" fill="none" stroke="#14801a" stroke-width="6.0" stroke-linejoin="miter"/><path d="M1655 2322.6L1665.5 2339.2L1655 2355.8L1644.5 2339.2Z" fill="none" stroke="#14801a" stroke-width="6.0" stroke-linejoin="miter"/><path d="M1698 2433.4L1708.5 2450L1698 2466.6L1687.5 2450Z" fill="none" stroke="#14801a" stroke-width="6.0" stroke-linejoin="miter"/><path d="M1740.9 2598.7L1751.4 2615.3L1740.9 2631.9L1730.4 2615.3Z" fill="none" stroke="#14801a" stroke-width="6.0" stroke-linejoin="miter"/><path d="M1783.9 2830.6L1794.4 2847.2L1783.9 2863.8L1773.4 2847.2Z" fill="none" stroke="#14801a" stroke-width="6.0" stroke-linejoin="miter"/></g>
<path d="M236.4 2034L279.4 2069.5L322.4 2115.5L365.4 2164.5L408.3 2226.8L451.3 2289.5L494.3 2350L537.3 2416.5L580.3 2498L623.3 2586.5L666.3 2727.5L709.3 2932.4L737.8 3087.3L743 3200" fill="none" stroke="#000000" stroke-width="6.7" stroke-linejoin="round" clip-path="url(#cb)"/>
<g><path d="M225.6 2023.2L247.2 2044.8M225.6 2044.8L247.2 2023.2" fill="none" stroke="#000000" stroke-width="6.5" stroke-linecap="butt"/><path d="M268.6 2058.7L290.2 2080.3M268.6 2080.3L290.2 2058.7" fill="none" stroke="#000000" stroke-width="6.5" stroke-linecap="butt"/><path d="M311.6 2104.7L333.2 2126.3M311.6 2126.3L333.2 2104.7" fill="none" stroke="#000000" stroke-width="6.5" stroke-linecap="butt"/><path d="M354.6 2153.7L376.2 2175.3M354.6 2175.3L376.2 2153.7" fill="none" stroke="#000000" stroke-width="6.5" stroke-linecap="butt"/><path d="M397.5 2216L419.1 2237.6M397.5 2237.6L419.1 2216" fill="none" stroke="#000000" stroke-width="6.5" stroke-linecap="butt"/><path d="M440.5 2278.7L462.1 2300.3M440.5 2300.3L462.1 2278.7" fill="none" stroke="#000000" stroke-width="6.5" stroke-linecap="butt"/><path d="M483.5 2339.2L505.1 2360.8M483.5 2360.8L505.1 2339.2" fill="none" stroke="#000000" stroke-width="6.5" stroke-linecap="butt"/><path d="M526.5 2405.7L548.1 2427.3M526.5 2427.3L548.1 2405.7" fill="none" stroke="#000000" stroke-width="6.5" stroke-linecap="butt"/><path d="M569.5 2487.2L591.1 2508.8M569.5 2508.8L591.1 2487.2" fill="none" stroke="#000000" stroke-width="6.5" stroke-linecap="butt"/><path d="M612.5 2575.7L634.1 2597.3M612.5 2597.3L634.1 2575.7" fill="none" stroke="#000000" stroke-width="6.5" stroke-linecap="butt"/><path d="M655.5 2716.7L677.1 2738.3M655.5 2738.3L677.1 2716.7" fill="none" stroke="#000000" stroke-width="6.5" stroke-linecap="butt"/><path d="M698.5 2921.6L720.1 2943.2M698.5 2943.2L720.1 2921.6" fill="none" stroke="#000000" stroke-width="6.5" stroke-linecap="butt"/></g>
<path d="M236.4 1850.8L279.4 1869.7L322.4 1896.2L365.4 1926.5L408.3 1966.2L451.3 2011.6L494.3 2068.4L537.3 2136.9L580.3 2225.5L623.3 2314.5L666.3 2440.5L709.3 2613.5L752.2 2847.3L777.8 3087.3L781 3200" fill="none" stroke="#0000f0" stroke-width="6.7" stroke-linejoin="round" clip-path="url(#cb)"/>
<g><rect x="225.9" y="1840.3" width="21" height="21" fill="none" stroke="#0000f0" stroke-width="6.4"/><rect x="268.9" y="1859.2" width="21" height="21" fill="none" stroke="#0000f0" stroke-width="6.4"/><rect x="311.9" y="1885.7" width="21" height="21" fill="none" stroke="#0000f0" stroke-width="6.4"/><rect x="354.9" y="1916" width="21" height="21" fill="none" stroke="#0000f0" stroke-width="6.4"/><rect x="397.8" y="1955.7" width="21" height="21" fill="none" stroke="#0000f0" stroke-width="6.4"/><rect x="440.8" y="2001.1" width="21" height="21" fill="none" stroke="#0000f0" stroke-width="6.4"/><rect x="483.8" y="2057.9" width="21" height="21" fill="none" stroke="#0000f0" stroke-width="6.4"/><rect x="526.8" y="2126.4" width="21" height="21" fill="none" stroke="#0000f0" stroke-width="6.4"/><rect x="569.8" y="2215" width="21" height="21" fill="none" stroke="#0000f0" stroke-width="6.4"/><rect x="612.8" y="2304" width="21" height="21" fill="none" stroke="#0000f0" stroke-width="6.4"/><rect x="655.8" y="2430" width="21" height="21" fill="none" stroke="#0000f0" stroke-width="6.4"/><rect x="698.8" y="2603" width="21" height="21" fill="none" stroke="#0000f0" stroke-width="6.4"/><rect x="741.7" y="2836.8" width="21" height="21" fill="none" stroke="#0000f0" stroke-width="6.4"/></g>
<path d="M236.4 1990L279.4 2021L322.4 2058L365.4 2108L408.3 2164L451.3 2233.5L494.3 2308L537.3 2386L580.3 2463.5L623.3 2573L666.3 2693.2L709.3 2854L749.5 3087.3L755 3200" fill="none" stroke="#f01010" stroke-width="6.7" stroke-linejoin="round" clip-path="url(#cb)"/>
<g><circle cx="236.4" cy="1990" r="12.45" fill="none" stroke="#f01010" stroke-width="6.3"/><circle cx="279.4" cy="2021" r="12.45" fill="none" stroke="#f01010" stroke-width="6.3"/><circle cx="322.4" cy="2058" r="12.45" fill="none" stroke="#f01010" stroke-width="6.3"/><circle cx="365.4" cy="2108" r="12.45" fill="none" stroke="#f01010" stroke-width="6.3"/><circle cx="408.3" cy="2164" r="12.45" fill="none" stroke="#f01010" stroke-width="6.3"/><circle cx="451.3" cy="2233.5" r="12.45" fill="none" stroke="#f01010" stroke-width="6.3"/><circle cx="494.3" cy="2308" r="12.45" fill="none" stroke="#f01010" stroke-width="6.3"/><circle cx="537.3" cy="2386" r="12.45" fill="none" stroke="#f01010" stroke-width="6.3"/><circle cx="580.3" cy="2463.5" r="12.45" fill="none" stroke="#f01010" stroke-width="6.3"/><circle cx="623.3" cy="2573" r="12.45" fill="none" stroke="#f01010" stroke-width="6.3"/><circle cx="666.3" cy="2693.2" r="12.45" fill="none" stroke="#f01010" stroke-width="6.3"/><circle cx="709.3" cy="2854" r="12.45" fill="none" stroke="#f01010" stroke-width="6.3"/></g>
<path d="M236.4 1995L279.4 2035L322.4 2075.8L365.4 2126.5L408.3 2187.5L451.3 2255L494.3 2324.3L537.3 2387.5L580.3 2470L623.3 2519L666.3 2589.2L709.3 2666.2L752.2 2753.3L795.2 2833.8L838.2 2918.4L881.2 3039.2L924.2 3143" fill="none" stroke="#f01010" stroke-width="6.7" stroke-linejoin="round" stroke-dasharray="26.0 26.0" stroke-dashoffset="51.6" clip-path="url(#cb)"/>
<g><circle cx="236.4" cy="1995" r="12.45" fill="none" stroke="#f01010" stroke-width="6.3"/><circle cx="279.4" cy="2035" r="12.45" fill="none" stroke="#f01010" stroke-width="6.3"/><circle cx="322.4" cy="2075.8" r="12.45" fill="none" stroke="#f01010" stroke-width="6.3"/><circle cx="365.4" cy="2126.5" r="12.45" fill="none" stroke="#f01010" stroke-width="6.3"/><circle cx="408.3" cy="2187.5" r="12.45" fill="none" stroke="#f01010" stroke-width="6.3"/><circle cx="451.3" cy="2255" r="12.45" fill="none" stroke="#f01010" stroke-width="6.3"/><circle cx="494.3" cy="2324.3" r="12.45" fill="none" stroke="#f01010" stroke-width="6.3"/><circle cx="537.3" cy="2387.5" r="12.45" fill="none" stroke="#f01010" stroke-width="6.3"/><circle cx="580.3" cy="2470" r="12.45" fill="none" stroke="#f01010" stroke-width="6.3"/><circle cx="623.3" cy="2519" r="12.45" fill="none" stroke="#f01010" stroke-width="6.3"/><circle cx="666.3" cy="2589.2" r="12.45" fill="none" stroke="#f01010" stroke-width="6.3"/><circle cx="709.3" cy="2666.2" r="12.45" fill="none" stroke="#f01010" stroke-width="6.3"/><circle cx="752.2" cy="2753.3" r="12.45" fill="none" stroke="#f01010" stroke-width="6.3"/><circle cx="795.2" cy="2833.8" r="12.45" fill="none" stroke="#f01010" stroke-width="6.3"/><circle cx="838.2" cy="2918.4" r="12.45" fill="none" stroke="#f01010" stroke-width="6.3"/><circle cx="881.2" cy="3039.2" r="12.45" fill="none" stroke="#f01010" stroke-width="6.3"/></g>
<path d="M236.4 1988L279.4 2019.5L322.4 2057L365.4 2096L408.3 2140.6L451.3 2188.5L494.3 2241.9L537.3 2281.1L580.3 2313.5L623.3 2348.6L666.3 2362.2L709.3 2373.9L752.2 2374.8L795.2 2381.9L838.2 2371.6L881.2 2378.2L924.2 2378.2L967.2 2371.6L1010.2 2375.3L1053.2 2376.2L1096.1 2378.2L1139.1 2378.6L1182.1 2374.3L1225.1 2379.5L1268.1 2377.3L1311.1 2376.8L1354.1 2376.8L1397 2381L1440 2381L1483 2375.5L1526 2373.8L1569 2381L1612 2374.6L1655 2385.3L1698 2372.5L1740.9 2376.8L1783.9 2378.9L1826.9 2374.6L1869.9 2378" fill="none" stroke="#de1622" stroke-width="6.4" stroke-linejoin="round" stroke-dasharray="6 7" clip-path="url(#cb)"/>
<g><circle cx="236.4" cy="1988" r="12.45" fill="none" stroke="#f01010" stroke-width="6.3"/><circle cx="279.4" cy="2019.5" r="12.45" fill="none" stroke="#f01010" stroke-width="6.3"/><circle cx="322.4" cy="2057" r="12.45" fill="none" stroke="#f01010" stroke-width="6.3"/><circle cx="365.4" cy="2096" r="12.45" fill="none" stroke="#f01010" stroke-width="6.3"/><circle cx="408.3" cy="2140.6" r="12.45" fill="none" stroke="#f01010" stroke-width="6.3"/><circle cx="451.3" cy="2188.5" r="12.45" fill="none" stroke="#f01010" stroke-width="6.3"/><circle cx="494.3" cy="2241.9" r="12.45" fill="none" stroke="#f01010" stroke-width="6.3"/><circle cx="537.3" cy="2281.1" r="12.45" fill="none" stroke="#f01010" stroke-width="6.3"/><circle cx="580.3" cy="2313.5" r="12.45" fill="none" stroke="#f01010" stroke-width="6.3"/><circle cx="623.3" cy="2348.6" r="12.45" fill="none" stroke="#f01010" stroke-width="6.3"/><circle cx="666.3" cy="2362.2" r="12.45" fill="none" stroke="#f01010" stroke-width="6.3"/><circle cx="709.3" cy="2373.9" r="12.45" fill="none" stroke="#f01010" stroke-width="6.3"/><circle cx="752.2" cy="2374.8" r="12.45" fill="none" stroke="#f01010" stroke-width="6.3"/><circle cx="795.2" cy="2381.9" r="12.45" fill="none" stroke="#f01010" stroke-width="6.3"/><circle cx="838.2" cy="2371.6" r="12.45" fill="none" stroke="#f01010" stroke-width="6.3"/><circle cx="881.2" cy="2378.2" r="12.45" fill="none" stroke="#f01010" stroke-width="6.3"/><circle cx="924.2" cy="2378.2" r="12.45" fill="none" stroke="#f01010" stroke-width="6.3"/><circle cx="967.2" cy="2371.6" r="12.45" fill="none" stroke="#f01010" stroke-width="6.3"/><circle cx="1010.2" cy="2375.3" r="12.45" fill="none" stroke="#f01010" stroke-width="6.3"/><circle cx="1053.2" cy="2376.2" r="12.45" fill="none" stroke="#f01010" stroke-width="6.3"/><circle cx="1096.1" cy="2378.2" r="12.45" fill="none" stroke="#f01010" stroke-width="6.3"/><circle cx="1139.1" cy="2378.6" r="12.45" fill="none" stroke="#f01010" stroke-width="6.3"/><circle cx="1182.1" cy="2374.3" r="12.45" fill="none" stroke="#f01010" stroke-width="6.3"/><circle cx="1225.1" cy="2379.5" r="12.45" fill="none" stroke="#f01010" stroke-width="6.3"/><circle cx="1268.1" cy="2377.3" r="12.45" fill="none" stroke="#f01010" stroke-width="6.3"/><circle cx="1311.1" cy="2376.8" r="12.45" fill="none" stroke="#f01010" stroke-width="6.3"/><circle cx="1354.1" cy="2376.8" r="12.45" fill="none" stroke="#f01010" stroke-width="6.3"/><circle cx="1397" cy="2381" r="12.45" fill="none" stroke="#f01010" stroke-width="6.3"/><circle cx="1440" cy="2381" r="12.45" fill="none" stroke="#f01010" stroke-width="6.3"/><circle cx="1483" cy="2375.5" r="12.45" fill="none" stroke="#f01010" stroke-width="6.3"/><circle cx="1526" cy="2373.8" r="12.45" fill="none" stroke="#f01010" stroke-width="6.3"/><circle cx="1569" cy="2381" r="12.45" fill="none" stroke="#f01010" stroke-width="6.3"/><circle cx="1612" cy="2374.6" r="12.45" fill="none" stroke="#f01010" stroke-width="6.3"/><circle cx="1655" cy="2385.3" r="12.45" fill="none" stroke="#f01010" stroke-width="6.3"/><circle cx="1698" cy="2372.5" r="12.45" fill="none" stroke="#f01010" stroke-width="6.3"/><circle cx="1740.9" cy="2376.8" r="12.45" fill="none" stroke="#f01010" stroke-width="6.3"/><circle cx="1783.9" cy="2378.9" r="12.45" fill="none" stroke="#f01010" stroke-width="6.3"/><circle cx="1826.9" cy="2374.6" r="12.45" fill="none" stroke="#f01010" stroke-width="6.3"/><circle cx="1869.9" cy="2378" r="12.45" fill="none" stroke="#f01010" stroke-width="6.3"/></g>
<rect x="732.2" y="1682.8" width="1137.7" height="452.4" fill="#fff" stroke="#222222" stroke-width="4.1"/>
<path d="M745.1 1725.1L841.8 1725.1" stroke="#14801a" stroke-width="6.7" fill="none"/>
<path d="M795.2 1710.5L805.7 1727.1L795.2 1743.7L784.7 1727.1Z" fill="none" stroke="#14801a" stroke-width="6.0" stroke-linejoin="miter"/>
<text x="852.3" y="1747.8" font-size="63.9" textLength="608.7" lengthAdjust="spacingAndGlyphs" fill="#000">GOSMP, corner, ZF-ML</text>
<path d="M745.1 1798.6L841.8 1798.6" stroke="#000000" stroke-width="6.7" fill="none"/>
<path d="M784.4 1787.8L806 1809.4M784.4 1809.4L806 1787.8" fill="none" stroke="#000000" stroke-width="6.5" stroke-linecap="butt"/>
<text x="852.3" y="1821.3" font-size="63.9" textLength="644.2" lengthAdjust="spacingAndGlyphs" fill="#000">GOSMP, corner, joint ML</text>
<path d="M745.1 1872.1L841.8 1872.1" stroke="#0000f0" stroke-width="6.7" fill="none"/>
<rect x="784.7" y="1861.6" width="21" height="21" fill="none" stroke="#0000f0" stroke-width="6.4"/>
<text x="852.3" y="1894.8" font-size="63.9" textLength="857.3" lengthAdjust="spacingAndGlyphs" fill="#000">GOSMP, corner, ZF-DNN, 170 dB</text>
<path d="M745.1 1945.6L841.8 1945.6" stroke="#f01010" stroke-width="6.7" fill="none"/>
<circle cx="795.2" cy="1945.6" r="12.45" fill="none" stroke="#f01010" stroke-width="6.3"/>
<text x="852.3" y="1968.3" font-size="63.9" textLength="990.7" lengthAdjust="spacingAndGlyphs" fill="#000">GOSMP, corner, CSI-free DNN, 170 dB</text>
<path d="M745.1 2019.1L841.8 2019.1" stroke="#f01010" stroke-width="6.7" stroke-dasharray="24.8 27" fill="none"/>
<circle cx="795.2" cy="2019.1" r="12.45" fill="none" stroke="#f01010" stroke-width="6.3"/>
<text x="852.3" y="2041.8" font-size="63.9" textLength="990.7" lengthAdjust="spacingAndGlyphs" fill="#000">GOSMP, corner, CSI-free DNN, 160 dB</text>
<path d="M745.1 2092.6L841.8 2092.6" stroke="#de1622" stroke-width="6.4" stroke-dasharray="6 7" fill="none"/>
<circle cx="795.2" cy="2092.6" r="12.45" fill="none" stroke="#f01010" stroke-width="6.3"/>
<text x="852.3" y="2115.3" font-size="63.9" textLength="990.7" lengthAdjust="spacingAndGlyphs" fill="#000">GOSMP, corner, CSI-free DNN, 180 dB</text>
<text x="271.8" y="3174.3" font-size="69.3" textLength="98.2" lengthAdjust="spacingAndGlyphs" fill="#262626">146</text>
<text x="443.3" y="3174.3" font-size="69.3" textLength="98.2" lengthAdjust="spacingAndGlyphs" fill="#262626">154</text>
<text x="616.5" y="3174.3" font-size="69.3" textLength="98.2" lengthAdjust="spacingAndGlyphs" fill="#262626">162</text>
<text x="788" y="3174.3" font-size="69.3" textLength="98.2" lengthAdjust="spacingAndGlyphs" fill="#262626">170</text>
<text x="959.9" y="3174.3" font-size="69.3" textLength="98.2" lengthAdjust="spacingAndGlyphs" fill="#262626">178</text>
<text x="1131.6" y="3174.3" font-size="69.3" textLength="98.2" lengthAdjust="spacingAndGlyphs" fill="#262626">186</text>
<text x="1303" y="3174.3" font-size="69.3" textLength="98.2" lengthAdjust="spacingAndGlyphs" fill="#262626">194</text>
<text x="1473.3" y="3174.3" font-size="69.3" textLength="103.7" lengthAdjust="spacingAndGlyphs" fill="#262626">202</text>
<text x="1643.8" y="3174.3" font-size="69.3" textLength="102.5" lengthAdjust="spacingAndGlyphs" fill="#262626">210</text>
<text x="1815.6" y="3174.3" font-size="69.3" textLength="102.4" lengthAdjust="spacingAndGlyphs" fill="#262626">218</text>
<text y="3258.7" font-size="68.3" fill="#262626"><tspan x="746.3" textLength="319.5" lengthAdjust="spacingAndGlyphs">Transmitted</tspan> <tspan x="1082.9" textLength="131.7" lengthAdjust="spacingAndGlyphs">SNR</tspan> <tspan x="1232.6" textLength="124.9" lengthAdjust="spacingAndGlyphs">(dB)</tspan></text>
<text transform="translate(71.6 2452) rotate(-90)" font-size="69.6" textLength="132.5" lengthAdjust="spacingAndGlyphs" fill="#262626">BER</text>
<text x="121.3" y="1714" font-size="68.3" textLength="65.4" lengthAdjust="spacingAndGlyphs" fill="#262626">10</text>
<text x="187.2" y="1682.3" font-size="51.1" textLength="26.1" lengthAdjust="spacingAndGlyphs" fill="#262626">0</text>
<text x="91.5" y="2073.8" font-size="74.4" textLength="69" lengthAdjust="spacingAndGlyphs" fill="#000">10</text>
<text x="160.6" y="2040.9" font-size="48.1" textLength="48.5" lengthAdjust="spacingAndGlyphs" fill="#000">−1</text>
<text x="101.3" y="2423" font-size="72" textLength="68" lengthAdjust="spacingAndGlyphs" fill="#000">10</text>
<text x="170" y="2390.9" font-size="46.1" textLength="49.1" lengthAdjust="spacingAndGlyphs" fill="#000">−2</text>
<text x="97.8" y="2767.3" font-size="74.8" textLength="70.8" lengthAdjust="spacingAndGlyphs" fill="#000">10</text>
<text x="168.3" y="2733.4" font-size="48.2" textLength="50.1" lengthAdjust="spacingAndGlyphs" fill="#000">−3</text>
<text x="98.2" y="3119.7" font-size="72.6" textLength="67.1" lengthAdjust="spacingAndGlyphs" fill="#000">10</text>
<text x="164.4" y="3088.2" font-size="46" textLength="47.5" lengthAdjust="spacingAndGlyphs" fill="#000">−4</text>
<text x="406.9" y="2950.5" font-size="74" text-anchor="middle" fill="#000">(<tspan font-weight="bold">b</tspan>)</text>
</g>
</svg></body></html>
